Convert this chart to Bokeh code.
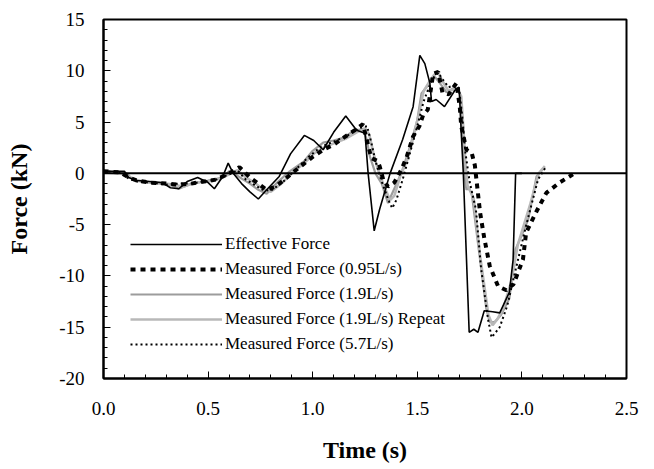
from bokeh.plotting import figure
from bokeh.models import (Range1d, SingleIntervalTicker, NumeralTickFormatter, Span,
                          Legend, LegendItem)
from bokeh.embed import file_html
from bokeh.resources import INLINE

# Effective Force
t_eff = [0.0, 0.05, 0.10, 0.12, 0.16, 0.22, 0.28, 0.32, 0.36, 0.40, 0.45, 0.50, 0.53, 0.57,
         0.596, 0.62, 0.66, 0.70, 0.74, 0.78, 0.84, 0.894, 0.96, 1.005, 1.05, 1.10, 1.158,
         1.21, 1.25, 1.265, 1.294, 1.32, 1.37, 1.43, 1.48, 1.512, 1.536, 1.56, 1.568, 1.59,
         1.63, 1.68, 1.70, 1.71, 1.72, 1.748, 1.77, 1.79, 1.82, 1.86, 1.894, 1.94, 1.958,
         1.97, 2.0]
f_eff = [0.2, 0.2, 0.2, -0.4, -0.7, -0.8, -0.9, -1.4, -1.5, -0.8, -0.4, -0.9, -1.5, -0.3,
         1.0, 0.0, -1.0, -1.8, -2.5, -1.6, -0.3, 1.9, 3.7, 3.2, 2.3, 4.0, 5.6,
         4.2, 3.9, 0.0, -5.6, -3.5, 0.0, 3.3, 6.5, 11.5, 10.7, 8.8, 7.0, 7.2,
         6.5, 8.1, 8.4, 4.0, 0.0, -15.5, -15.2, -15.5, -13.4, -13.5, -13.6, -11.6, -8.4,
         0.0, 0.0]

# Measured Force (0.95L/s)
t_095 = [0.0, 0.08, 0.12, 0.16, 0.22, 0.3, 0.36, 0.42, 0.48, 0.54, 0.6, 0.65, 0.7, 0.74,
         0.78, 0.82, 0.86, 0.9, 0.95, 1.0, 1.05, 1.1, 1.15, 1.2, 1.24, 1.28, 1.31, 1.32,
         1.337, 1.36, 1.39, 1.425, 1.45, 1.48, 1.51, 1.528, 1.55, 1.576, 1.6, 1.62, 1.65,
         1.687, 1.703, 1.71, 1.735, 1.76, 1.775, 1.8, 1.82, 1.846, 1.886, 1.926, 1.96,
         2.005, 2.02, 2.07, 2.117, 2.18, 2.244]
f_095 = [0.2, 0.1, -0.4, -0.7, -0.9, -1.0, -1.1, -1.0, -0.8, -0.6, 0.0, 0.6, -0.4, -1.0,
         -1.6, -1.3, -0.7, 0.0, 0.8, 1.6, 2.3, 2.8, 3.5, 4.2, 4.8, 1.5, 1.2, 0.7,
         -0.6, -1.3, -0.9, 0.4, 1.65, 3.6, 4.6, 5.7, 6.2, 9.7, 9.9, 7.9, 7.7,
         8.8, 6.5, 4.6, 2.3, 2.0, 0.8, -3.8, -6.3, -9.0, -11.0, -11.4, -10.8,
         -8.4, -5.8, -3.7, -1.9, -0.9, -0.1]

# Measured Force (1.9L/s)
t_19 = [0.0, 0.08, 0.11, 0.14, 0.2, 0.28, 0.33, 0.36, 0.42, 0.5, 0.57, 0.6, 0.63, 0.66,
        0.7, 0.74, 0.78, 0.83, 0.89, 0.96, 1.0, 1.05, 1.1, 1.15, 1.2, 1.243, 1.258, 1.274,
        1.3, 1.33, 1.36, 1.37, 1.41, 1.43, 1.465, 1.5, 1.52, 1.544, 1.568, 1.584, 1.608,
        1.64, 1.68, 1.703, 1.71, 1.72, 1.726, 1.735, 1.743, 1.76, 1.79, 1.83, 1.846, 1.87,
        1.90, 1.94, 1.97, 2.0, 2.03, 2.07, 2.1]
f_19 = [0.2, 0.1, 0.0, -0.6, -0.8, -1.0, -1.2, -1.5, -1.0, -0.7, -0.4, 0.2, -0.1, -0.5,
        -1.0, -1.6, -2.0, -0.9, 0.2, 1.2, 2.2, 3.0, 3.2, 3.5, 4.2, 4.3, 3.3, 1.6,
        0.0, -1.0, -2.9, -2.4, -0.6, 0.4, 2.6, 5.2, 7.8, 8.4, 9.1, 9.4, 8.8,
        7.9, 8.4, 7.8, 4.9, 2.6, -0.3, -1.6, -1.4, -1.9, -6.8, -13.2, -14.5, -14.5,
        -13.8, -12.2, -7.4, -6.0, -4.5, -0.3, 0.4]

# Measured Force (1.9L/s) Repeat
t_19r = [0.0, 0.08, 0.12, 0.15, 0.22, 0.29, 0.34, 0.38, 0.44, 0.5, 0.56, 0.61, 0.64, 0.68,
         0.72, 0.76, 0.8, 0.85, 0.9, 0.96, 1.01, 1.06, 1.11, 1.16, 1.21, 1.25, 1.27, 1.29,
         1.31, 1.34, 1.37, 1.39, 1.42, 1.45, 1.48, 1.51, 1.53, 1.56, 1.58, 1.60, 1.62,
         1.65, 1.69, 1.71, 1.72, 1.73, 1.74, 1.75, 1.77, 1.80, 1.84, 1.86, 1.88, 1.91,
         1.95, 1.98, 2.01, 2.04, 2.08, 2.11]
f_19r = [0.1, 0.0, -0.3, -0.7, -0.9, -1.0, -1.1, -1.3, -0.9, -0.8, -0.5, 0.0, 0.3, -0.4,
         -0.9, -1.5, -1.8, -1.0, 0.0, 1.0, 2.0, 2.6, 3.0, 3.4, 4.0, 4.4, 3.8, 2.0,
         0.5, -1.2, -2.6, -2.2, -0.2, 1.2, 3.4, 6.0, 8.0, 9.0, 9.6, 9.8, 9.0,
         8.0, 8.3, 7.5, 4.5, 1.0, -1.2, -1.6, -2.5, -8.0, -13.8, -14.8, -14.3, -13.2,
         -10.5, -7.0, -5.0, -3.0, 0.0, 0.7]

# Measured Force (5.7L/s)
t_57 = [0.0, 0.08, 0.12, 0.16, 0.22, 0.3, 0.36, 0.42, 0.48, 0.54, 0.6, 0.64, 0.68, 0.72,
        0.76, 0.8, 0.86, 0.92, 0.98, 1.04, 1.1, 1.16, 1.22, 1.26, 1.28, 1.30, 1.33, 1.36,
        1.38, 1.40, 1.43, 1.46, 1.50, 1.53, 1.56, 1.58, 1.60, 1.62, 1.65, 1.68, 1.70,
        1.715, 1.73, 1.75, 1.78, 1.805, 1.838, 1.855, 1.894, 1.93, 1.97, 2.02, 2.077, 2.117]
f_57 = [0.2, 0.1, -0.5, -0.8, -0.9, -1.1, -1.0, -1.0, -0.8, -0.6, -0.1, 0.3, -0.6, -1.1,
        -1.6, -1.7, -0.8, 0.4, 1.6, 2.6, 3.1, 3.6, 4.4, 4.6, 3.0, 1.2, -0.8, -2.5,
        -3.4, -2.6, -0.6, 1.6, 4.6, 7.0, 8.6, 9.4, 9.8, 9.2, 8.4, 8.6, 8.2,
        5.5, 2.0, -0.8, -3.5, -9.3, -14.2, -16.0, -15.0, -12.9, -9.4, -5.1, -0.6, 0.7]

FONT = "Liberation Serif"

p = figure(width=646, height=465, output_backend="svg", toolbar_location=None,
           x_range=Range1d(0, 2.5), y_range=Range1d(-20, 15),
           min_border_left=103, min_border_right=20, min_border_top=19, min_border_bottom=85)
p.xgrid.visible = False
p.ygrid.visible = False
p.outline_line_color = "black"
p.outline_line_width = 2
p.outline_line_alpha = 1
p.background_fill_color = "white"
p.border_fill_color = "white"

p.xaxis.ticker = SingleIntervalTicker(interval=0.5, num_minor_ticks=5)
p.yaxis.ticker = SingleIntervalTicker(interval=5, num_minor_ticks=5)
p.xaxis.formatter = NumeralTickFormatter(format="0.0")
p.yaxis.formatter = NumeralTickFormatter(format="0")
for ax in (p.xaxis, p.yaxis):
    ax.axis_line_width = 2
    ax.axis_line_color = "black"
    ax.major_tick_in = 7
    ax.major_tick_out = 0
    ax.minor_tick_in = 4
    ax.minor_tick_out = 0
    ax.major_tick_line_width = 1
    ax.minor_tick_line_width = 1
    ax.major_label_text_font = FONT
    ax.major_label_text_font_size = "19px"
    ax.major_label_text_color = "black"
    ax.axis_label_text_font = FONT
    ax.axis_label_text_font_style = "bold"
    ax.axis_label_text_font_size = "24px"
    ax.axis_label_text_color = "black"
p.xaxis.axis_label = "Time (s)"
p.yaxis.axis_label = "Force (kN)"
p.xaxis.major_label_standoff = 23
p.yaxis.major_label_standoff = 19
p.xaxis.axis_label_standoff = 19
p.yaxis.axis_label_standoff = 24

p.add_layout(Span(location=0, dimension="width", line_color="black", line_width=2))

r19 = p.line(t_19, f_19, line_color="#9c9c9c", line_width=2.2)
r19r = p.line(t_19r, f_19r, line_color="#b8b8b8", line_width=2.6)
r57 = p.line(t_57, f_57, line_color="black", line_width=2, line_dash="2 3")
r095 = p.line(t_095, f_095, line_color="black", line_width=4, line_dash="5 5")
reff = p.line(t_eff, f_eff, line_color="black", line_width=1.6)

legend = Legend(items=[
    LegendItem(label="Effective Force", renderers=[reff]),
    LegendItem(label="Measured Force (0.95L/s)", renderers=[r095]),
    LegendItem(label="Measured Force (1.9L/s)", renderers=[r19]),
    LegendItem(label="Measured Force (1.9L/s) Repeat", renderers=[r19r]),
    LegendItem(label="Measured Force (5.7L/s)", renderers=[r57]),
], location=(27, 24))
legend.background_fill_alpha = 0
legend.border_line_alpha = 0
legend.label_text_font = FONT
legend.label_text_font_size = "17px"
legend.label_text_color = "black"
legend.glyph_width = 92
legend.glyph_height = 20
legend.label_standoff = 3
legend.spacing = 5
legend.padding = 0
legend.margin = 0
p.add_layout(legend, "center")

open("out.html", "w").write(file_html(p, INLINE))
